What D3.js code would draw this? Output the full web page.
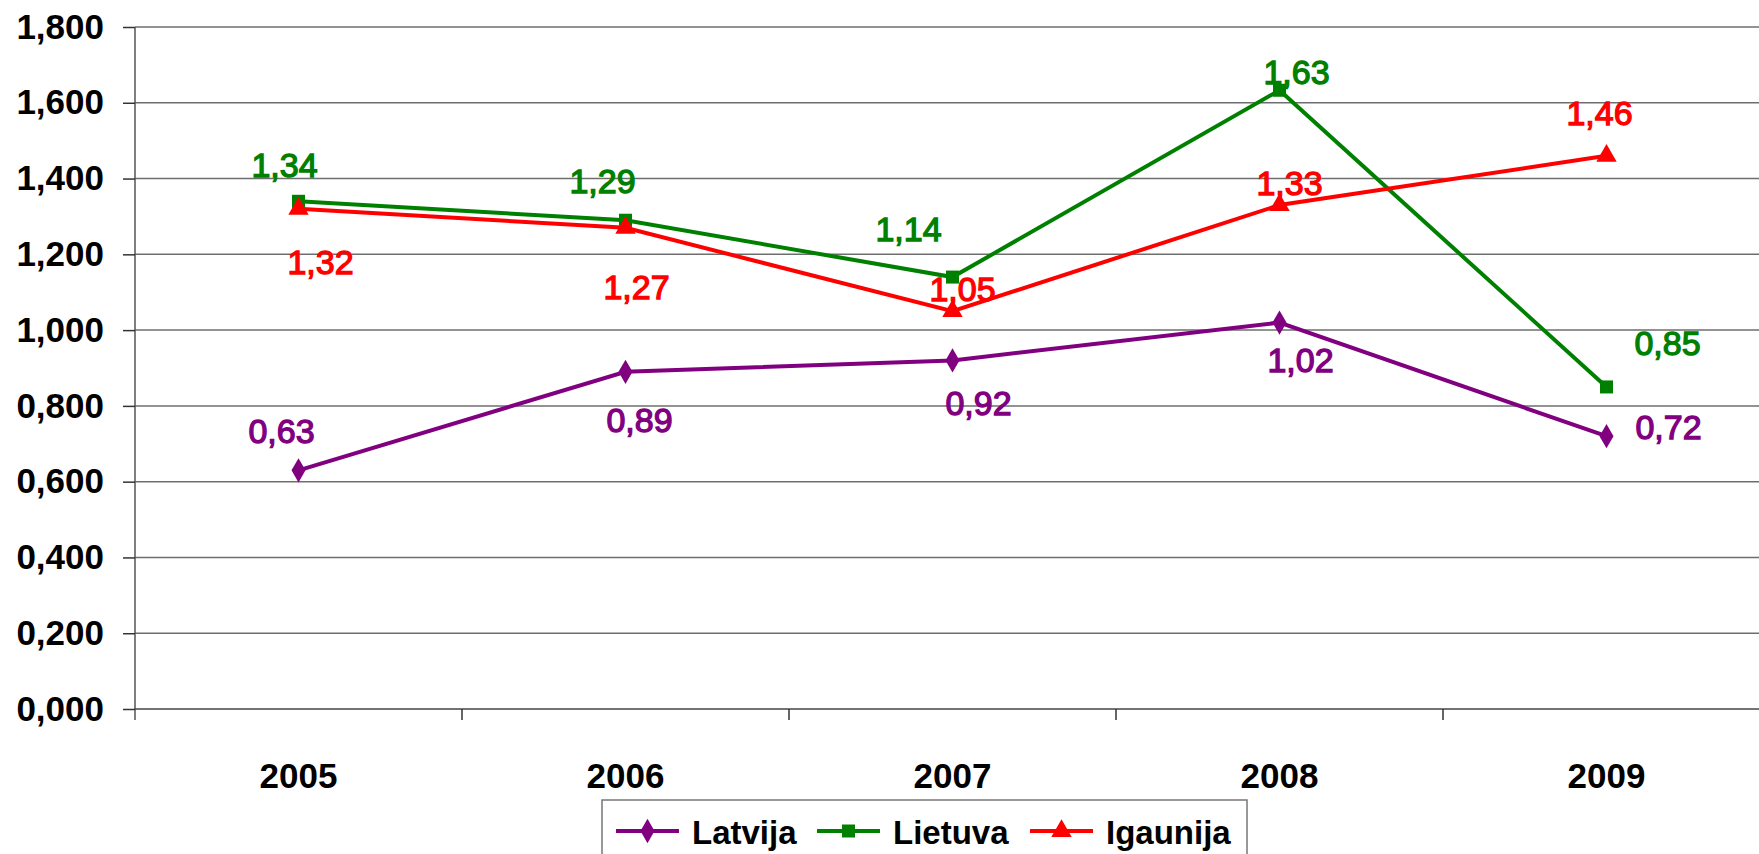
<!DOCTYPE html>
<html>
<head>
<meta charset="utf-8">
<script src="https://cdn.jsdelivr.net/npm/d3@7"></script>
<style>
  html, body { margin: 0; padding: 0; background: #fff; }
  svg { display: block; }
</style>
</head>
<body>
<div id="graph_area"></div>
<script>
// Data
const years = ['2005', '2006', '2007', '2008', '2009'];
const latvija = [0.63, 0.89, 0.92, 1.02, 0.72];
const lietuva = [1.34, 1.29, 1.14, 1.633, 0.85];
const igaunija = [1.32, 1.27, 1.05, 1.33, 1.46];
const yTicks = [0, 0.2, 0.4, 0.6, 0.8, 1.0, 1.2, 1.4, 1.6, 1.8];

// Label offsets (px) from each point
const offLatvija = [[-17, -40], [14, 48], [26, 42], [21, 37], [62, -9]];
const offLietuva = [[-14, -37], [-23, -39], [-44, -48], [17, -19], [61, -44]];
const offIgaunija = [[22, 53], [11, 59], [10, -22], [10, -22], [-7, -43]];

const series = [
  { name: 'Latvija', values: latvija, color: '#800080', marker: 'diamond', off: offLatvija },
  { name: 'Lietuva', values: lietuva, color: '#008000', marker: 'square', off: offLietuva },
  { name: 'Igaunija', values: igaunija, color: '#ff0000', marker: 'triangle', off: offIgaunija },
];

const W = 1759, H = 854;
const svg = d3.select('#graph_area')
  .append('svg')
    .attr('width', W)
    .attr('height', H);

const x = d3.scaleBand()
  .domain(years)
  .range([135, 1770]);
const y = d3.scaleLinear()
  .domain([0, 1.8])
  .range([709, 27]);

const fmt = v => d3.format('.3f')(v).replace('.', ',');
const fmt2 = v => d3.format('.2f')(v).replace('.', ',');

// Gridlines
svg.append('g')
  .selectAll('line')
  .data(yTicks.filter(d => d > 0))
  .join('line')
    .attr('x1', 135)
    .attr('x2', W)
    .attr('y1', d => y(d))
    .attr('y2', d => y(d))
    .attr('stroke', '#6e6e6e')
    .attr('stroke-width', 1.5);

// Y axis
const yAxis = svg.append('g')
  .attr('transform', 'translate(135,0)')
  .call(d3.axisLeft(y).tickValues(yTicks).tickSize(12).tickPadding(19).tickFormat(fmt));
yAxis.select('.domain').attr('d', `M0,${y(1.8)}V720`).attr('stroke', '#555').attr('stroke-width', 1.5);
yAxis.selectAll('.tick line').attr('stroke', '#333').attr('stroke-width', 1.5);
yAxis.selectAll('.tick text')
  .attr('font-family', 'Liberation Sans, Arial, sans-serif')
  .attr('font-weight', 'bold')
  .attr('font-size', 35)
  .attr('fill', '#000');

// X axis
const xAxis = svg.append('g')
  .attr('transform', `translate(0,${y(0)})`)
  .call(d3.axisBottom(x).tickSize(0).tickPadding(54));
xAxis.select('.domain').attr('d', `M135,0H${W}`).attr('stroke', '#444').attr('stroke-width', 1.5);
xAxis.selectAll('.tick text')
  .attr('font-family', 'Liberation Sans, Arial, sans-serif')
  .attr('font-weight', 'bold')
  .attr('font-size', 35)
  .attr('fill', '#000');
xAxis.selectAll('.boundary')
  .data(years.slice(1))
  .join('line')
    .attr('x1', d => x(d))
    .attr('x2', d => x(d))
    .attr('y1', 0)
    .attr('y2', 11)
    .attr('stroke', '#333')
    .attr('stroke-width', 1.5);

// Markers
const symbolOf = {
  diamond: d3.symbol().type(d3.symbolDiamond).size(170),
  square: d3.symbol().type(d3.symbolSquare).size(169),
  triangle: d3.symbol().type(d3.symbolTriangle).size(180),
};

const cx = d => x(d) + x.bandwidth() / 2;

series.forEach(s => {
  const g = svg.append('g');
  g.append('path')
    .datum(s.values)
    .attr('fill', 'none')
    .attr('stroke', s.color)
    .attr('stroke-width', 4)
    .attr('d', d3.line()
      .x((d, i) => cx(years[i]))
      .y(d => y(d))
    );
  g.selectAll('.m')
    .data(s.values)
    .join('path')
      .attr('transform', (d, i) => `translate(${cx(years[i])},${y(d)})`)
      .attr('d', symbolOf[s.marker])
      .attr('fill', s.color);
});

// Data labels
series.forEach(s => {
  svg.append('g')
    .selectAll('text')
    .data(s.values)
    .join('text')
      .attr('x', (d, i) => cx(years[i]) + s.off[i][0])
      .attr('y', (d, i) => y(d) + s.off[i][1])
      .attr('dy', '0.36em')
      .attr('text-anchor', 'middle')
      .attr('font-family', 'Liberation Sans, Arial, sans-serif')
      .attr('font-size', 34)
      .attr('fill', s.color)
      .attr('stroke', s.color)
      .attr('stroke-width', 1.3)
      .text(d => fmt2(d));
});

// Legend
const legend = svg.append('g');
legend.append('rect')
  .attr('x', 602)
  .attr('y', 800)
  .attr('width', 645)
  .attr('height', 80)
  .attr('fill', '#fff')
  .attr('stroke', '#777')
  .attr('stroke-width', 1.5);
const legX = [616, 817, 1030];
series.forEach((s, i) => {
  const lg = legend.append('g').attr('transform', `translate(${legX[i]},831)`);
  lg.append('line')
    .attr('x1', 0).attr('x2', 63)
    .attr('stroke', s.color)
    .attr('stroke-width', 4);
  lg.append('path')
    .attr('transform', 'translate(31.5,0)')
    .attr('d', symbolOf[s.marker])
    .attr('fill', s.color);
  lg.append('text')
    .attr('x', 76)
    .attr('y', 13)
    .attr('font-family', 'Liberation Sans, Arial, sans-serif')
    .attr('font-weight', 'bold')
    .attr('font-size', 33)
    .attr('fill', '#000')
    .text(s.name);
});
</script>
</body>
</html>
